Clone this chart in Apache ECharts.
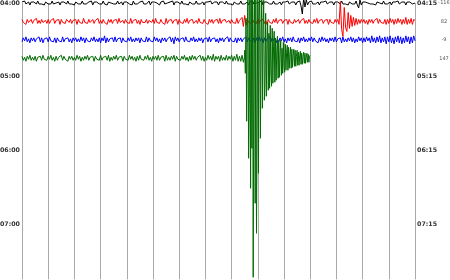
<!DOCTYPE html>
<html><head><meta charset="utf-8">
<script src="https://cdn.jsdelivr.net/npm/echarts@6/dist/echarts.min.js"></script>
<style>html,body{margin:0;padding:0;background:#fff}#c{width:450px;height:280px}</style>
</head><body><div id="c"></div>
<script>
// Helicorder rows: each row = 15 minutes, starting 04:00
const leftLabels = ['04:00','05:00','06:00','07:00'];
const rightLabels = ['04:15','05:15','06:15','07:15'];
const traceLabels = ['-116','82','-9','147'];
const traceColors = ['#000000','#ff0000','#0000ff','#006a00'];
const rowStarts = [0, 15, 30, 45];     // minutes after 04:00
const greenNoiseStep = 0.05;           // minutes per sample
const quakeStart = 8.5;                // minute at which the quake segment starts (green row)
const quakeStep = 0.025;               // minutes per sample

// counts (positive = up)
const black = [
1,-1,2,-1,0,1,-2,1,-1,1,0,-1,2,-1,1,-1,1,-2,1,0,
-1,1,-1,2,-1,1,0,-1,1,-2,1,-1,1,0,-1,2,-1,1,-1,1,
-2,1,0,-1,1,-1,2,-1,1,-1,0,1,-1,2,-2,1,-1,1,0,-1,
1,-1,2,-1,1,-2,1,-1,0,1,-1,1,-1,2,-1,0,1,-2,1,-1,
1,0,-1,1,-2,2,-1,1,-1,0,1,-1,2,-1,1,-1,0,2,-2,1,
-1,1,-1,0,1,-2,1,-1,2,-1,1,0,-1,1,-1,2,-2,1,-1,1,
0,-1,2,-1,1,-1,1,-2,1,0,-1,1,-1,2,-1,1,-1,0,1,-2,
1,-1,1,-1,2,-1,0,1,-1,1,-2,1,-1,1,0,-1,2,-1,1,-1,
1,-2,1,0,-1,1,-1,2,-1,1,-1,0,1,-2,1,-1,2,-1,1,0,
-1,1,-1,2,-2,1,-1,1,0,-1,1,-1,2,-1,1,-1,0,1,-2,1,
-1,1,-1,2,-1,0,1,-1,1,-2,1,-1,2,-3,-11,5,-4,3,-2,1,
-1,2,-1,1,-1,0,1,-2,1,-1,1,-1,2,-1,0,1,-1,1,-2,1,
-1,1,0,-1,2,-1,1,-1,1,-2,1,0,-1,1,-1,2,-2,-5,3,-2,
1,-1,1,-1,0,2,-1,1,-1,1,-2,1,-1,0,1,-1,2,-1,1,-1,
0,1,-2,1,-1,1,-1,2,-1,0,1,-1,1,-2,1,-1,1,0,-1,1,0];

const red = [
2,-1,1,-3,2,-1,0,2,-2,1,-1,3,-2,1,-2,2,-1,0,1,-2,
2,-2,1,-1,3,-2,1,-1,2,-3,2,-1,1,-2,2,0,-1,2,-2,1,
-1,2,-3,2,-1,1,-2,3,-1,1,-2,2,-1,0,2,-2,1,-1,3,-2,
1,-2,2,-1,1,-3,2,-1,2,-2,1,-1,2,-2,3,-1,0,1,-2,2,
-1,1,-2,3,-2,1,-1,2,-2,1,-3,2,-1,1,-1,2,-2,1,0,-1,
2,-2,3,-1,1,-2,2,-1,1,-3,3,-2,1,-1,2,-2,1,-1,2,-3,
2,-1,1,-2,2,-1,3,-2,1,-1,2,-2,0,1,-2,3,-1,1,-2,2,
-1,1,-3,2,-1,2,-2,1,-1,2,-2,3,-2,1,-1,2,-1,0,1,-2,
2,-1,1,-2,3,-2,1,-1,4,-5,6,-4,2,-1,1,-2,2,-1,1,-2,
3,-2,1,-1,2,-2,1,-3,2,-1,1,-2,2,-1,3,-2,1,-1,2,-2,
1,-1,2,-3,2,-1,1,-2,2,-1,0,2,-2,1,-1,3,-2,1,-2,2,
-1,1,-2,2,-1,3,-2,1,-1,2,-2,1,-1,2,-3,2,-1,1,-2,2,
-1,2,-3,20,-8,-15,14,-6,-10,9,-7,6,-5,4,-4,3,-3,2,-2,2,
-1,2,-2,1,-3,2,-1,2,-2,1,-1,3,-2,2,-1,1,-2,2,-3,2,
-2,3,-1,2,-3,2,-2,3,-1,2,-3,2,-2,4,-3,2,-2,3,-3,2,1];

const blue = [
-2,2,-1,3,-2,1,-3,2,-1,2,-2,1,-1,3,-2,2,-3,1,-1,2,
-2,3,-1,1,-2,2,-3,2,-1,1,-2,3,-2,1,-1,2,-2,1,-3,2,
-1,2,-2,1,-2,3,-1,2,-3,2,-1,1,-2,2,-1,3,-2,1,-2,2,
-3,2,-1,4,-3,2,-2,1,-1,2,-2,3,-2,1,-1,2,-3,2,-1,1,
-2,2,-1,3,-2,1,-2,2,-1,2,-3,2,-1,1,-2,3,-2,2,-1,1,
-2,3,-1,2,-2,1,-3,2,-1,2,-2,1,-1,3,-2,2,-4,3,-1,2,
-2,1,-1,2,-2,3,-1,1,-2,2,-1,3,-2,1,-2,2,-1,2,-3,1,
-1,2,-2,3,-2,1,-1,2,-2,1,-3,2,-1,2,-2,1,-1,3,-2,2,
-1,1,-2,2,-3,2,-1,2,-2,1,-1,3,-2,2,-1,1,-2,2,-3,2,
-2,3,-1,2,-3,2,-2,1,-1,3,-2,2,-1,2,-3,1,-2,2,-1,3,
-2,1,-3,2,-1,2,-2,3,-1,1,-2,2,-3,2,-1,3,-2,1,-2,2,
-1,3,-2,2,-1,1,-3,2,-2,3,-1,2,-2,1,-3,2,-1,2,-2,3,
-2,1,-1,2,-3,3,-2,1,-2,2,-1,3,-2,2,-3,1,-2,3,-1,2,
-3,2,-2,3,-1,2,-3,4,-2,2,-3,3,-2,4,-3,2,-2,3,-4,3,
-2,4,-3,2,-4,3,-2,4,-3,3,-4,2,-3,4,-2,3,-4,3,-3,4,-1];

// green row, background noise before the quake
const greenNoise = [
2,-2,1,-3,2,-1,3,-2,1,-2,2,-3,1,-1,2,-2,3,-1,1,-2,
2,-1,3,-2,1,-3,2,-2,1,-1,3,-2,2,-1,1,-3,2,-1,2,-2,
1,-2,3,-1,2,-3,1,-2,2,-1,3,-2,1,-1,2,-3,2,-1,1,-2,
3,-2,1,-1,2,-2,3,-3,1,-2,2,-1,3,-2,1,-1,2,-3,2,-1,
1,-2,3,-1,2,-2,1,-3,2,-2,3,-1,1,-2,2,-1,3,-2,1,-3,
2,-1,2,-2,3,-2,1,-1,2,-3,3,-2,1,-2,2,-1,3,-3,2,-1,
1,-2,2,-1,3,-2,1,-3,2,-2,3,-1,2,-2,1,-1,3,-2,2,-3,
1,-2,3,-1,2,-2,4,-3,2,-1,2,-3,3,-2,1,-2,3,-2,2,-1,
3,-3,2,-2,4,-3,2,-3,3,-4,2];

// green row, the earthquake and its coda (data stops ~11 min)
const greenQuake = [
8,-15,40,-63,30,70,-100,-40,80,-130,
65,-90,85,-219,20,75,-145,60,-175,-60,
70,-115,40,65,-80,20,62,-50,30,58,
-42,-20,45,-38,15,36,-32,25,-30,33,
-15,-28,30,-25,12,27,-24,20,-22,8,
22,-20,18,-19,5,18,-17,10,-15,16,
-8,-14,14,-12,6,13,-12,11,-10,4,
11,-10,9,-9,3,9,-8,8,-8,2,
8,-7,6,-7,3,7,-6,5,-6,2,
6,-5,5,-5,1,5,-4,4,-4,2,3];

const gain = 0.814; // minutes of row height per count

function lineSeries(points, color) {
  return {
    type: 'line', data: points, showSymbol: false, symbol: 'none', clip: false,
    silent: true, animation: false, lineStyle: { color: color, width: 1 }
  };
}
const even = (arr, row) => arr.map((c, i) => [i * 15 / (arr.length - 1), rowStarts[row] - c * gain]);
const greenPts = greenNoise.map((c, i) => [i * greenNoiseStep, rowStarts[3] - c * gain])
  .concat(greenQuake.map((c, i) => [quakeStart + i * quakeStep, rowStarts[3] - c * gain]));

const series = [
  lineSeries(even(black, 0), traceColors[0]),
  lineSeries(even(red, 1), traceColors[1]),
  lineSeries(even(blue, 2), traceColors[2]),
  lineSeries(greenPts, traceColors[3])
];

const labelFont = { fontFamily: 'DejaVu Sans', fontSize: 6.3, fontWeight: 'bold', color: '#333' };

const chart = echarts.init(document.getElementById('c'), null, { renderer: 'canvas' });
chart.setOption({
  backgroundColor: '#fff',
  animation: false,
  grid: { left: 22, right: 35, top: 3, height: 276.4, outerBoundsMode: 'none', containLabel: false },
  xAxis: {
    type: 'value', min: 0, max: 15, interval: 1,
    axisLine: { show: false }, axisTick: { show: false }, axisLabel: { show: false },
    splitLine: { show: true, lineStyle: { color: '#aaaaaa', width: 1 } }
  },
  yAxis: [
    {
      type: 'value', inverse: true, min: 0, max: 225, interval: 60, position: 'left',
      axisLine: { show: false }, axisTick: { show: false }, splitLine: { show: false },
      axisLabel: Object.assign({ margin: 2, formatter: v => (v % 60 === 0 && v / 60 < leftLabels.length) ? leftLabels[v / 60] : '' }, labelFont)
    },
    {
      type: 'value', inverse: true, min: 0, max: 225, interval: 60, position: 'right',
      axisLine: { show: false }, axisTick: { show: false }, splitLine: { show: false },
      axisLabel: Object.assign({ margin: 2, formatter: v => (v % 60 === 0 && v / 60 < rightLabels.length) ? rightLabels[v / 60] : '' }, labelFont)
    },
    {
      type: 'value', inverse: true, min: 0, max: 225, interval: 15, position: 'right', offset: 22,
      axisLine: { show: false }, axisTick: { show: false }, splitLine: { show: false },
      axisLabel: { margin: 7, align: 'center', fontFamily: 'DejaVu Sans', fontSize: 5, color: '#555',
        formatter: v => (v % 15 === 0 && v / 15 < traceLabels.length) ? traceLabels[v / 15] : '' }
    }
  ],
  series: series
});
</script>
</body></html>
